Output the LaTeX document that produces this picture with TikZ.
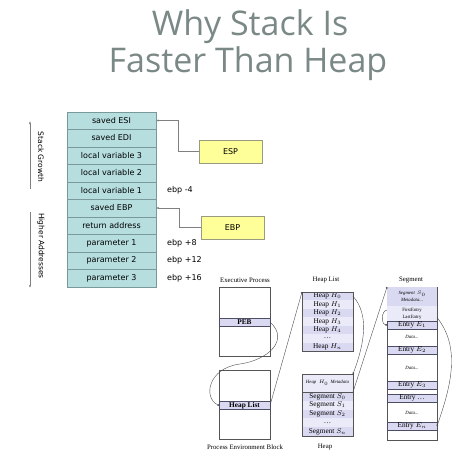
\documentclass[tikz,border=0pt]{standalone}
\usepackage{fontspec}
\setmainfont{Liberation Serif}
\newfontfamily\titlefont{Open Sans}
\newfontfamily\stackfont{DejaVu Sans}
\usetikzlibrary{arrows.meta,positioning}

\definecolor{titlegray}{HTML}{7A8886}
\definecolor{stackteal}{HTML}{B6DEDF}
\definecolor{stackline}{HTML}{7A9A9A}
\definecolor{regyellow}{HTML}{FFFF99}
\definecolor{regline}{HTML}{9A9A80}
\definecolor{lav}{HTML}{D9D9F2}
\definecolor{lavlight}{HTML}{EAEAF8}
\definecolor{bandline}{HTML}{4D4D66}
\definecolor{boxline}{HTML}{555555}

\begin{document}
\begin{tikzpicture}[
    x=1pt, y=-1pt,
    title/.style={font=\titlefont\fontsize{34}{40}\selectfont, text=titlegray, anchor=base, inner sep=0pt},
    cell/.style={draw=stackline, fill=stackteal, minimum width=89pt, minimum height=17.5pt,
                 inner sep=0pt, outer sep=0pt, font=\stackfont\fontsize{8}{9}\selectfont},
    reg/.style={draw=regline, fill=regyellow, minimum width=63pt, minimum height=23pt,
                font=\stackfont\fontsize{8}{9}\selectfont},
    offs/.style={inner sep=0pt, font=\stackfont\fontsize{8}{9}\selectfont},
    side/.style={inner sep=0pt, rotate=-90, font=\stackfont\fontsize{7.5}{8}\selectfont},
    link/.style={draw=gray, -{Latex[length=2.5pt,width=2pt]}},
    tip/.style={draw=gray, thin, -{Latex[length=3pt,width=2pt]}},
    hbox/.style={minimum width=51pt, inner sep=0pt, outer sep=0pt},
    band/.style={hbox, draw=bandline, line width=0.8pt, fill=lav, minimum height=8pt,
                 font=\fontsize{7.3}{8}\selectfont},
    hrow/.style={hbox, minimum height=8.43pt, font=\fontsize{7.3}{8}\selectfont},
    fine/.style={inner sep=0pt, font=\fontsize{4.8}{5.5}\selectfont},
    lbl/.style={inner sep=0pt, font=\fontsize{6.8}{8}\selectfont},
    ptr/.style={draw=black!70, line width=0.4pt, -{Circle[length=1.8pt]}}
]
\useasboundingbox (0,0) rectangle (474,474);

% title
\node[title] (t1) at (250,35) {Why Stack Is};
\node[title] (t2) at (248,72) {Faster Than Heap};

% stack frame
\node[cell] (s1) at (111.5,120.5) {saved ESI};
\node[cell, below=0pt of s1] (s2) {saved EDI};
\node[cell, below=0pt of s2] (s3) {local variable 3};
\node[cell, below=0pt of s3] (s4) {local variable 2};
\node[cell, below=0pt of s4] (s5) {local variable 1};
\node[cell, below=0pt of s5] (s6) {saved EBP};
\node[cell, below=0pt of s6] (s7) {return address};
\node[cell, below=0pt of s7] (s8) {parameter 1};
\node[cell, below=0pt of s8] (s9) {parameter 2};
\node[cell, below=0pt of s9] (s10) {parameter 3};

\node[offs, right=11pt of s5] (o5) {ebp -4};
\node[offs, right=11pt of s8] (o8) {ebp +8};
\node[offs, right=11pt of s9] (o9) {ebp +12};
\node[offs, right=11pt of s10] (o10) {ebp +16};

\node[reg] (esp) at (230.5,151.5) {ESP};
\node[reg] (ebp) at (232.5,227.5) {EBP};
\draw[link] (esp.west) -- ++(-21,0) |- (s1.east);
\draw[link] (ebp.west) -- ++(-22,0) |- (s6.east);

\node[side] (grow) at (41,157) {Stack Growth};
\node[side] (addr) at (41,246) {Higher Addresses};
\coordinate (ga) at (30,189);
\coordinate (gb) at (30,121);
\coordinate (ha) at (30,212);
\coordinate (hb) at (30,288);
\draw[tip] (ga) -- (gb);
\draw[tip] (ha) -- (hb);

% process environment block
\node[lbl] (eplab) at (245,280) {Executive Process};
\node[hbox, draw=boxline, minimum height=69pt] (ep) at (244.5,321.5) {};
\node[band] (peb) at (244.5,322) {\textbf{PEB}};
\node[hbox, draw=boxline, minimum height=69pt] (pe) at (244.5,404.5) {};
\node[band] (hlist) at (244.5,405.5) {\textbf{Heap List}};
\node[lbl] (pelab) at (245,447) {Process Environment Block};

% heap list
\node[lbl] (hllab) at (326,280) {Heap List};
\node[hrow, fill=lav] (h0) at (327.5,296.2) {Heap $H_0$};
\node[hrow, fill=lavlight, below=0pt of h0] (h1) {Heap $H_1$};
\node[hrow, fill=lav, below=0pt of h1] (h2) {Heap $H_2$};
\node[hrow, fill=lavlight, below=0pt of h2] (h3) {Heap $H_3$};
\node[hrow, fill=lav, below=0pt of h3] (h4) {Heap $H_4$};
\node[hrow, fill=lavlight, below=0pt of h4] (hd) {\dots};
\node[hrow, fill=lav, below=0pt of hd] (hn) {Heap $H_n$};
\draw[boxline] (h0.north west) rectangle (hn.south east);

% heap
\node[hbox, fill=lavlight, minimum height=18pt, fine] (meta) at (327.5,383) {\itshape Heap\ \ $H_0$\ \ Metadata};
\node[hrow, fill=lav, minimum height=8.8pt, below=0pt of meta] (g0) {Segment $S_0$};
\node[hrow, fill=lavlight, minimum height=8.8pt, below=0pt of g0] (g1) {Segment $S_1$};
\node[hrow, fill=lav, minimum height=8.8pt, below=0pt of g1] (g2) {Segment $S_2$};
\node[hrow, fill=lavlight, minimum height=8.8pt, below=0pt of g2] (gd) {\dots};
\node[hrow, fill=lav, minimum height=8.8pt, below=0pt of gd] (gn) {Segment $S_n$};
\draw[boxline] (meta.north west) rectangle (gn.south east);
\draw[boxline] (meta.south west) -- (meta.south east);
\node[lbl] (hplab) at (325,447) {Heap};

% segment
\node[lbl] (seglab) at (411,280) {Segment};
\node[hbox, draw=boxline, minimum width=50pt, minimum height=153pt] (seg) at (412,363.5) {};
\node[hbox, minimum width=50pt, minimum height=19pt, fill=lav, align=center, fine] (smeta) at (412,296.5)
    {\itshape Segment\ \ $S_0$\\[1pt]\itshape Metadata...};
\node[hbox, minimum width=50pt, minimum height=8pt, fill=lavlight, fine, below=0pt of smeta] (first) {FirstEntry};
\node[hbox, minimum width=50pt, minimum height=7pt, fill=lavlight, fine, below=0pt of first] (last) {LastEntry};
\node[band, minimum width=50pt] (e1) at (412,325) {Entry $E_1$};
\node[fine] (d1) at (412,337) {\itshape Data...};
\node[band, minimum width=50pt] (e2) at (412,350) {Entry $E_2$};
\node[fine] (d2) at (412,368) {\itshape Data...};
\node[band, minimum width=50pt] (e3) at (412,385) {Entry $E_3$};
\node[band, minimum width=50pt] (ed) at (412,398) {Entry \dots};
\node[fine] (d3) at (412,413) {\itshape Data...};
\node[band, minimum width=50pt] (en) at (412,426) {Entry $E_n$};

% pointers
\draw[ptr] (peb.east) .. controls +(20,18) and +(28,-4) .. ++(-30,42)
    .. controls +(-32,4) and +(-16,-8) .. (hlist.west);
\draw[ptr] (hlist.east) -- (h0.north west);
\draw[ptr] (h0.east) .. controls +(16,18) and +(12,-32) .. (meta.north east);
\draw[ptr] (meta.south east) -- (seg.north west);
\draw[ptr] (first.west) .. controls +(-6,1) and +(-6,-1) .. (e1.west);
\draw[ptr] (last.east) .. controls +(24,30) and +(14,-40) .. (en.east);
\end{tikzpicture}
\end{document}
